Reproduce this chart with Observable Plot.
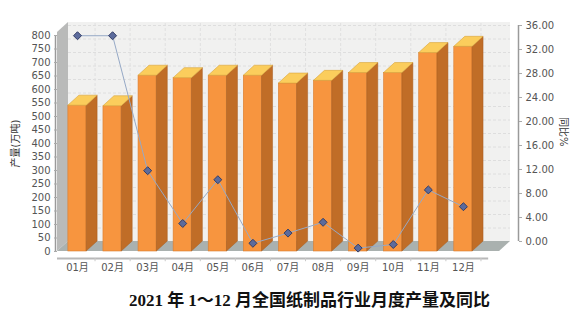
<!DOCTYPE html>
<html>
<head>
<meta charset="utf-8">
<script src="https://cdn.jsdelivr.net/npm/d3@7"></script>
<script src="https://cdn.jsdelivr.net/npm/@observablehq/plot@0.6"></script>
<style>
  html, body { margin: 0; padding: 0; background: #fff; }
  #title { height: 41px; line-height: 41px; padding-left: 34px; text-align: center;
    font-family: "Liberation Serif", "Noto Sans CJK SC", serif; font-weight: bold; font-size: 17px; color: #111; }
</style>
</head>
<body>
<div id="chart"></div>
<div id="title">2021 年 1～12 月全国纸制品行业月度产量及同比</div>
<script>
// ---- data ----
const months = ["01月","02月","03月","04月","05月","06月","07月","08月","09月","10月","11月","12月"];
const output = [540, 538, 651, 642, 651, 651, 622, 632, 661, 661, 735, 758];   // 产量(万吨)
const yoy = [34.3, 34.3, 11.8, 3.0, 10.3, -0.3, 1.4, 3.2, -1.1, -0.5, 8.6, 5.8]; // 同比 %
const leftTicks = [0,50,100,150,200,250,300,350,400,450,500,550,600,650,700,750,800];
const rightTicks = [0,4,8,12,16,20,24,28,32,36];
const gridTicks = [50,100,150,200,250,300,350,400,450,500,550,600,650,700,750,800];

// ---- geometry / style ----
const XMIN = -0.57, XMAX = 12.57, FLOOR_END = 12.03, WALL_TOP = 811;
const DX = 11, DY = -10;            // 3D depth offset (px)
const HALF = 0.26;                   // half bar width (band units)
const R0 = 37.04, RK = 22.22;        // right-axis (%) -> left-axis units
const toL = r => R0 + r * RK;
const idx = months.map((_, i) => i);
const bars = months.map((m, i) => ({i, m, v: output[i]}));
const line = months.map((m, i) => ({i, m, r: yoy[i], L: toL(yoy[i])}));

const FRONT = "#f7953f", SIDE = "#c06d27", TOP = "#fbcd5c";

function walls(index, {x, y}) {
  const g = d3.create("svg:g");
  const xl = x(XMIN), xr = x(FLOOR_END), y0 = y(0), yt = y(WALL_TOP);
  g.append("path").attr("d", `M${xl + DX},${yt + DY}L${xr + DX},${yt + DY}L${xr + DX},${y0 + DY}L${xl + DX},${y0 + DY}Z`)
    .attr("fill", "#f1f1f0");
  return g.node();
}
function sideWalls(index, {x, y}) {
  const g = d3.create("svg:g");
  const xl = x(XMIN), xr = x(FLOOR_END), y0 = y(0), yt = y(WALL_TOP);
  g.append("path").attr("d", `M${xl},${y0}L${xl},${yt}L${xl + DX},${yt + DY}L${xl + DX},${y0 + DY}Z`)
    .attr("fill", "#b9bab9");
  g.append("path").attr("d", `M${xl},${y0}L${xr},${y0}L${xr + DX},${y0 + DY}L${xl + DX},${y0 + DY}Z`)
    .attr("fill", "#aab1af");
  return g.node();
}
function prisms(index, {x, y}) {
  const g = d3.create("svg:g");
  bars.forEach(b => {
    const x1 = x(b.i - HALF), x2 = x(b.i + HALF), y0 = y(0), yv = y(b.v);
    g.append("path").attr("d", `M${x2},${y0}L${x2 + DX},${y0 + DY}L${x2 + DX},${yv + DY}L${x2},${yv}Z`)
      .attr("fill", SIDE).attr("stroke", "#a85c1e").attr("stroke-width", 0.5);
    g.append("path").attr("d", `M${x1},${yv}L${x2},${yv}L${x2 + DX},${yv + DY}L${x1 + DX},${yv + DY}Z`)
      .attr("fill", TOP).attr("stroke", "#d9a53a").attr("stroke-width", 0.6);
  });
  return g.node();
}

const plot = Plot.plot({
  width: 585,
  height: 280,
  marginLeft: 57,
  marginRight: 67,
  marginTop: 10,
  marginBottom: 22,
  style: {fontFamily: "'DejaVu Sans', 'Noto Sans CJK SC', sans-serif", fontSize: "10px", color: "#555", background: "#fff"},
  x: {type: "linear", domain: [XMIN, XMAX], range: [57, 518]},
  y: {type: "linear", domain: [0, 800], range: [251, 35]},
  marks: [
    walls,
    Plot.ruleY(gridTicks, {x1: XMIN, x2: FLOOR_END, dx: DX, dy: DY, stroke: "#dedede", strokeDasharray: "3,2"}),
    Plot.ruleX(idx.map(i => i + 0.5), {y1: 0, y2: WALL_TOP, dy: DY, stroke: "#e0e0e0", strokeDasharray: "3,2"}),
    sideWalls,
    Plot.rect(bars, {x1: d => d.i - HALF, x2: d => d.i + HALF, y1: 0, y2: "v", fill: FRONT, stroke: "#d97c2e", strokeWidth: 0.6}),
    prisms,
    Plot.line(line, {x: "i", y: "L", stroke: "#96a9c6", strokeWidth: 1}),
    Plot.dot(line, {x: "i", y: "L", symbol: "diamond2", r: 3.6, fill: "#5c6b9c", stroke: "#333d66", strokeWidth: 1}),
    // axes
    Plot.ruleX([XMIN], {y1: 0, y2: 800, dx: -2, stroke: "#9a9a9a", strokeWidth: 1.5}),
    Plot.axisY(leftTicks, {anchor: "left", tickSize: 3, tickPadding: 4, stroke: "#aaa", tickFormat: d => d, label: null}),
    Plot.ruleX([XMAX], {y1: toL(0), y2: toL(36), stroke: "#9a9a9a", strokeWidth: 1.5}),
    Plot.axisY(rightTicks.map(toL), {anchor: "right", tickSize: 3, tickPadding: 4, stroke: "#aaa",
      tickFormat: d => ((d - R0) / RK).toFixed(2), label: null}),
    Plot.ruleY([0], {x1: XMIN, x2: 11.72, dy: 7, stroke: "#b8b8b8", strokeWidth: 2}),
    Plot.ruleX(idx.map(i => i + 0.5), {y1: 0, y2: -12, dy: 7, stroke: "#c8c8c8", strokeWidth: 1}),
    Plot.axisX(idx, {anchor: "bottom", tickSize: 0, tickPadding: 5, tickFormat: i => months[i], label: null}),
    Plot.text(["产量(万吨)"], {x: XMIN, y: 400, dx: -42, rotate: -90, fill: "#333", fontSize: 10}),
    Plot.text(["同比%"], {x: XMAX, y: toL(18.3), dx: 45, rotate: 90, fill: "#333", fontSize: 10})
  ]
});
document.getElementById("chart").appendChild(plot);
</script>
</body>
</html>
